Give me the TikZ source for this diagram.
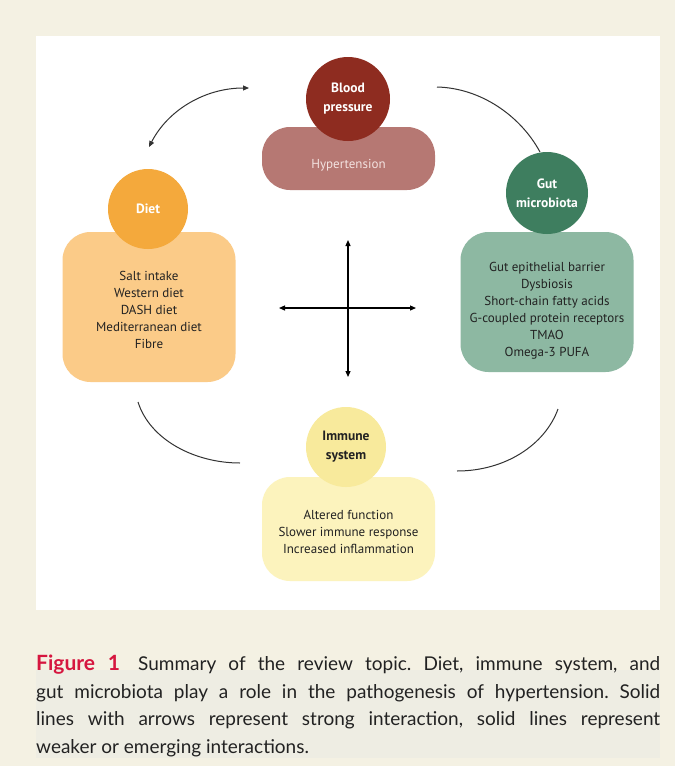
\documentclass[tikz,border=0pt]{standalone}
\usepackage{fontspec}
\setmainfont{PT Sans}
\newfontfamily\capfont{Lato}
\usetikzlibrary{arrows.meta}
\frenchspacing
\definecolor{bgcream}{HTML}{F4F1E3}
\definecolor{capband}{HTML}{EEEDE3}
\definecolor{bpdark}{HTML}{8E2C20}
\definecolor{bpbox}{HTML}{B67873}
\definecolor{dietc}{HTML}{F4A93C}
\definecolor{dietbox}{HTML}{FBCB88}
\definecolor{gutc}{HTML}{3E7E5F}
\definecolor{gutbox}{HTML}{8DB8A2}
\definecolor{immc}{HTML}{F8EA9C}
\definecolor{immbox}{HTML}{FCF3BD}
\definecolor{figred}{HTML}{D6163F}
\definecolor{txtdark}{HTML}{222222}
\definecolor{linec}{HTML}{333333}
\tikzset{
  catcircle/.style={circle, inner sep=0pt, minimum size=#1, align=center,
    font=\fontsize{13.5}{19}\selectfont\bfseries},
  catbox/.style={rectangle, rounded corners=28pt, inner sep=0pt, minimum width=173pt},
  boxtext/.style={align=center, inner sep=0pt, text=txtdark,
    font=\fontsize{13}{17}\selectfont},
  weak/.style={draw=linec, line width=1pt},
  strong/.style={draw=black, line width=1.2pt, {Triangle[length=6pt,width=5pt]}-{Triangle[length=6pt,width=5pt]}},
  strongarc/.style={draw=linec, line width=1pt, {Triangle[length=6pt,width=5pt]}-{Triangle[length=6pt,width=5pt]}}
}
\begin{document}
\begin{tikzpicture}[x=1pt,y=-1pt]
\useasboundingbox (0,0) rectangle (675,766);
\fill[bgcream] (0,0) rectangle (675,766);
\fill[white] (36,36) rectangle (660,610);
\fill[capband] (36,670) rectangle (660,758);

% boxes
\node[catbox, fill=bpbox, minimum height=63pt] (hypbox) at (348.5,158.5) {};
\node[catbox, fill=dietbox, minimum height=150pt] (dietbox) at (149,307) {};
\node[catbox, fill=gutbox, minimum height=140pt] (gutbox) at (547,302) {};
\node[catbox, fill=immbox, minimum height=104pt] (immbox) at (348.5,529) {};

% circles
\node[catcircle=84pt, fill=bpdark, text=white] (bp) at (348,99) {Blood\\pressure};
\node[catcircle=80pt, fill=dietc, text=white] (diet) at (148,209) {Diet};
\node[catcircle=82pt, fill=gutc, text=white] (gut) at (547,193) {Gut\\microbiota};
\node[catcircle=80pt, fill=immc, text=txtdark] (imm) at (346,447) {Immune\\system};

% box texts
\node[boxtext, text={rgb,255:red,243;green,226;blue,224}, font=\fontsize{13}{17}\selectfont] (hyptxt) at (348.5,165) {Hypertension};
\node[boxtext] (diettxt) at (149,310) {Salt intake\\Western diet\\DASH diet\\Mediterranean diet\\Fibre};
\node[boxtext] (guttxt) at (547,311) {Gut epithelial barrier\\Dysbiosis\\Short-chain fatty acids\\G-coupled protein receptors\\TMAO\\Omega-3 PUFA};
\node[boxtext] (immtxt) at (348.5,532) {Altered function\\Slower immune response\\Increased inflammation};

% cross
\coordinate (vt) at (348,240);
\coordinate (vb) at (348,377);
\coordinate (hl) at (279,308);
\coordinate (hr) at (416,308);
\draw[strong] (vt) -- (vb);
\draw[strong] (hl) -- (hr);

% arcs
\coordinate (tla) at (149,147);
\coordinate (tlb) at (249,88);
\draw[strongarc] (tla) .. controls (168,110) and (205,88) .. (tlb);
\coordinate (tra) at (437,87);
\coordinate (trb) at (540,152);
\draw[weak] (tra) .. controls (480,88) and (520,115) .. (trb);
\coordinate (bla) at (138,402);
\coordinate (blb) at (240,463);
\draw[weak] (bla) .. controls (150,440) and (195,463) .. (blb);
\coordinate (bra) at (558,409);
\coordinate (brb) at (457,471);
\draw[weak] (bra) .. controls (545,445) and (505,471) .. (brb);

% caption
\node[anchor=north west, inner sep=0pt, text width=624pt, align=justify,
  font=\capfont\fontsize{19}{27.5}\selectfont, text=txtdark] (caption) at (36,655)
  {{\color{figred}\fontsize{21}{27.5}\selectfont\bfseries Figure 1}\hspace{6pt} Summary of the review topic. Diet, immune system, and\linebreak gut microbiota play a role in the pathogenesis of hypertension. Solid\linebreak lines with arrows represent strong interaction, solid lines represent\linebreak weaker or emerging interactions.};
\end{tikzpicture}
\end{document}
